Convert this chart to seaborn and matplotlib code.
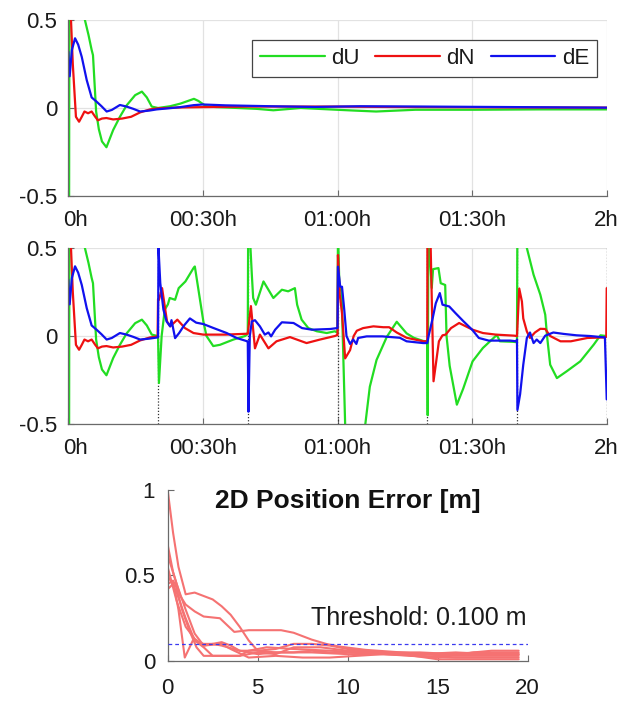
import numpy as np
import pandas as pd
import matplotlib
matplotlib.use("Agg")
import matplotlib.pyplot as plt
import matplotlib.transforms as mtransforms
import seaborn as sns

# ---------------- data ----------------
COMPONENTS = ["dU", "dN", "dE"]
COLORS = {"dU": "#22dd22", "dN": "#ee1111", "dE": "#1111ee"}
TIME_TICKS = [0, 30, 60, 90, 120]
TIME_LABELS = ["0h", "00:30h", "01:00h", "01:30h", "2h"]
Y_TICKS = [-0.5, 0, 0.5]
Y_LABELS = ["-0.5", "0", "0.5"]
RESET_TIMES = [0, 20, 40, 60, 80, 100, 120]

# top panel: single convergence (minutes, metres)
top_dU_t = [0.15, 0.2, 0.3, 3.7, 4.5, 5.2, 5.5, 6.2, 6.8, 7.5, 8.5, 10.0, 11.5, 13.0, 14.9, 16.4, 17.5, 18.6, 20.0, 22.7,
            25.0, 28.0, 29.0, 30.7, 33.0, 37.7, 42.0, 45.7, 51.8, 59.8, 64.0, 68.6, 77.4, 90.6, 105.0, 120.0]
top_dU_v = [-1.2, 0.0, 0.9, 0.5, 0.415, 0.33, 0.30, -0.02, -0.12, -0.19, -0.223, -0.125, -0.05, 0.015, 0.073, 0.093, 0.06, 0.008, 0.0, 0.01,
            0.025, 0.052, 0.04, 0.01, 0.005, 0.0, -0.005, -0.013, 0.0, -0.01, -0.015, -0.02, -0.01, -0.01, -0.008, -0.008]
top_dN_t = [0, 0.6, 1.0, 1.7, 2.4, 3.0, 3.6, 4.4, 5.2, 6.0, 6.6, 7.5, 8.5, 10.0, 12.0, 14.0, 16.0, 18.2, 20.0, 25.0,
            30.0, 40.0, 50.0, 60.0, 70.0, 80.0, 90.0, 100.0, 120.0]
top_dN_v = [0.9, 0.5, 0.25, -0.05, -0.078, -0.05, -0.02, -0.03, -0.02, -0.05, -0.07, -0.06, -0.057, -0.065, -0.06, -0.05, -0.025, -0.008, -0.002, 0.003,
            0.005, 0.008, 0.008, 0.008, 0.006, 0.005, 0.004, 0.003, 0.002]
top_dE_t = [0, 0.3, 0.8, 1.5, 2.2, 3.0, 4.1, 5.2, 6.3, 7.4, 8.55, 9.7, 11.5, 13.0, 14.5, 16.0, 18.0, 19.7, 22.7, 25.0,
            27.9, 30.0, 35.0, 45.0, 55.0, 65.0, 80.0, 100.0, 120.0]
top_dE_v = [0.32, 0.18, 0.33, 0.396, 0.36, 0.29, 0.159, 0.06, 0.036, 0.01, -0.02, -0.011, 0.017, 0.008, -0.005, -0.02, -0.015, -0.008, -0.001, 0.005,
            0.016, 0.02, 0.015, 0.01, 0.006, 0.01, 0.008, 0.005, 0.002]

# middle panel: re-initialisation every 20 minutes
mid_dU_t = ([0.15, 0.2, 0.3, 3.7, 4.5, 5.2, 5.5, 6.2, 6.8, 7.5, 8.5, 10.0, 11.5, 13.0, 14.9, 16.4, 17.5, 18.6, 19.9]
            + [20.0, 20.2, 20.8, 21.5, 22.2, 22.6, 23.8, 24.6, 26.1, 27.9, 28.2, 30.1, 30.8, 32.3, 33.8, 36.8, 39.4, 39.9]
            + [40.0, 40.1, 40.5, 40.9, 41.2, 41.8, 43.5, 45.7, 47.6, 49.0, 50.5, 51.0, 52.0, 53.5, 55.4, 57.6, 59.4, 59.9]
            + [60.0, 60.1, 60.4, 60.9, 61.7, 62.5, 66.2, 67.2, 68.7, 71.0, 73.2, 75.4, 77.0, 79.1, 79.9]
            + [80.0, 80.1, 80.25, 81.0, 81.3, 82.5, 83.0, 84.0, 84.3, 85.0, 86.6, 88.0, 90.1, 92.4, 95.5, 96.2, 99.2, 99.9]
            + [100.0, 100.1, 102.2, 103.7, 105.2, 106.3, 106.7, 107.4, 108.9, 111.1, 114.1, 117.1, 118.6, 119.9, 120.0])
mid_dU_v = ([-1.2, 0.0, 0.9, 0.5, 0.415, 0.33, 0.30, -0.02, -0.12, -0.19, -0.223, -0.125, -0.05, 0.015, 0.073, 0.093, 0.06, 0.008, 0.0]
            + [0.0, -0.267, 0.0, 0.15, 0.18, 0.216, 0.206, 0.272, 0.31, 0.386, 0.395, 0.083, 0.0, -0.057, -0.05, -0.02, 0.0, 0.01]
            + [0.02, 0.7, 0.55, 0.35, 0.216, 0.178, 0.31, 0.216, 0.263, 0.254, 0.272, 0.178, 0.093, 0.045, 0.027, 0.017, 0.027, 0.02]
            + [0.02, 0.6, 0.3, 0.25, -0.5, -1.0, -0.5, -0.288, -0.136, -0.004, 0.081, 0.015, -0.01, -0.028, -0.03]
            + [-0.03, -0.45, 0.6, 0.273, 0.38, 0.386, 0.30, 0.29, 0.0, -0.17, -0.39, -0.3, -0.144, -0.068, 0.006, -0.03, -0.033, -0.035]
            + [-0.035, 0.7, 0.5, 0.348, 0.235, 0.121, 0.0, -0.163, -0.239, -0.2, -0.144, -0.049, 0.004, 0.0, 0.0])
mid_dN_t = ([0, 0.6, 1.0, 1.7, 2.4, 3.0, 3.6, 4.4, 5.2, 6.0, 6.6, 7.5, 8.5, 10.0, 12.0, 14.0, 16.0, 18.2, 19.9]
            + [20.0, 20.2, 20.9, 22.0, 22.7, 24.3, 26.0, 27.9, 30.1, 35.0, 39.9]
            + [40.0, 40.7, 41.6, 42.7, 44.6, 46.4, 49.4, 53.1, 56.1, 59.4, 59.9]
            + [60.0, 60.1, 60.5, 61.0, 61.7, 62.8, 63.6, 64.3, 65.7, 68.0, 70.2, 71.5, 73.2, 75.4, 79.1, 79.9]
            + [80.0, 80.05, 80.6, 81.4, 81.9, 82.6, 83.4, 84.1, 85.3, 87.1, 88.6, 90.1, 92.4, 95.3, 99.4, 99.9]
            + [100.0, 100.5, 101.1, 101.4, 102.2, 102.9, 104.0, 105.2, 106.3, 107.4, 109.7, 112.0, 115.7, 119.4, 119.9, 120.0])
mid_dN_v = ([0.9, 0.5, 0.25, -0.05, -0.078, -0.05, -0.02, -0.03, -0.02, -0.05, -0.07, -0.06, -0.057, -0.065, -0.06, -0.05, -0.025, -0.008, -0.003]
            + [0.21, 0.206, 0.272, 0.083, 0.055, 0.093, 0.045, 0.017, 0.008, 0.008, 0.013]
            + [0.013, 0.17, -0.07, 0.008, -0.07, -0.03, -0.006, -0.04, -0.02, 0.0, 0.005]
            + [0.005, 0.46, 0.235, 0.13, -0.127, -0.08, 0.0, 0.03, 0.045, 0.055, 0.05, 0.05, 0.02, -0.01, -0.03, -0.03]
            + [-0.03, 0.8, 0.7, -0.257, -0.163, -0.03, 0.004, 0.008, 0.045, 0.074, 0.055, 0.036, 0.017, 0.008, 0.002, 0.0]
            + [0.0, 0.27, 0.196, 0.1, 0.026, -0.011, 0.02, 0.041, 0.04, 0.0, -0.03, -0.03, -0.011, -0.008, -0.005, 0.272])
mid_dE_t = ([0, 0.3, 0.8, 1.5, 2.2, 3.0, 4.1, 5.2, 6.3, 7.4, 8.55, 9.7, 11.5, 13.0, 14.5, 16.0, 18.0, 19.9]
            + [20.0, 20.1, 20.5, 21.2, 21.9, 22.7, 23.0, 23.8, 24.7, 25.8, 27.1, 28.5, 30.1, 32.3, 35.3, 37.5, 39.9]
            + [40.0, 40.15, 40.45, 40.9, 41.6, 42.7, 43.8, 44.6, 45.2, 46.1, 47.6, 50.2, 52.1, 54.3, 58.4, 59.9]
            + [60.0, 60.1, 60.6, 61.0, 61.5, 62.0, 62.8, 63.5, 64.2, 64.6, 66.5, 70.0, 73.9, 75.4, 79.1, 79.9]
            + [80.0, 80.3, 81.2, 81.9, 82.8, 83.4, 84.9, 86.3, 88.1, 90.0, 91.5, 93.7, 98.5, 99.9]
            + [100.0, 100.1, 100.7, 101.4, 102.2, 102.9, 103.7, 104.4, 105.2, 106.3, 108.1, 110.4, 113.3, 116.3, 119.6, 120.0])
mid_dE_v = ([0.32, 0.18, 0.33, 0.396, 0.36, 0.29, 0.159, 0.06, 0.036, 0.01, -0.02, -0.011, 0.017, 0.008, -0.005, -0.02, -0.015, -0.008]
            + [-0.008, 0.5, 0.3, 0.15, 0.083, 0.055, 0.09, -0.012, 0.017, 0.06, 0.1, 0.076, 0.068, 0.046, 0.017, -0.011, -0.03]
            + [-0.03, -0.43, 0.0, 0.083, 0.09, 0.055, 0.008, 0.02, -0.002, 0.036, 0.078, 0.074, 0.045, 0.036, 0.04, 0.045]
            + [0.045, 0.394, 0.28, 0.28, 0.15, 0.0, -0.045, -0.02, -0.045, -0.011, -0.002, -0.002, -0.01, -0.03, -0.04, -0.04]
            + [-0.04, 0.0, 0.1, 0.186, 0.244, 0.178, 0.168, 0.13, 0.083, 0.036, -0.011, -0.026, -0.026, -0.03]
            + [-0.02, -0.42, -0.33, -0.163, -0.011, 0.02, -0.04, -0.02, -0.04, 0.002, 0.02, 0.012, 0.004, 0.0, -0.008, -0.36])

# bottom panel: 2D position error of each re-initialised run (minutes, metres)
run1_t = [0, 0.3, 0.6, 1.0, 1.5, 2.0, 2.5, 3.0, 3.5, 4.0, 4.5, 5.0, 6.0, 7.0, 8.0, 9.0, 10.0, 12.0, 14.0, 16.0, 18.0, 19.5]
run1_v = [1.0, 0.75, 0.55, 0.39, 0.40, 0.38, 0.36, 0.32, 0.27, 0.20, 0.12, 0.06, 0.05, 0.05, 0.06, 0.05, 0.05, 0.04, 0.03, 0.02, 0.02, 0.02]
run2_t = [0, 0.3, 0.7, 1.0, 1.5, 2.0, 2.9, 3.3, 3.7, 4.5, 5.5, 6.3, 7.0, 8.0, 8.8, 9.5, 11.0, 13.0, 15.0, 17.0, 19.5]
run2_v = [0.68, 0.52, 0.38, 0.33, 0.29, 0.26, 0.25, 0.21, 0.17, 0.18, 0.18, 0.18, 0.165, 0.125, 0.10, 0.085, 0.065, 0.05, 0.035, 0.04, 0.04]
run3_t = [0, 0.5, 1.0, 1.5, 2.0, 2.5, 3.0, 3.5, 4.0, 5.0, 6.0, 7.0, 8.0, 9.0, 10.0, 12.0, 14.0, 16.0, 18.0, 19.5]
run3_v = [0.62, 0.45, 0.30, 0.16, 0.09, 0.10, 0.11, 0.09, 0.06, 0.06, 0.07, 0.10, 0.10, 0.09, 0.07, 0.05, 0.04, 0.03, 0.03, 0.03]
run4_t = [0, 0.3, 0.6, 0.95, 1.4, 2.0, 2.5, 3.0, 4.0, 5.0, 6.0, 8.0, 10.0, 12.0, 15.0, 17.0, 19.5]
run4_v = [0.45, 0.47, 0.30, 0.02, 0.12, 0.10, 0.10, 0.09, 0.06, 0.04, 0.05, 0.05, 0.04, 0.04, 0.02, 0.05, 0.05]
run5_t = [0, 0.4, 0.8, 1.2, 1.6, 2.0, 3.0, 4.0, 4.5, 5.5, 7.0, 9.0, 11.0, 13.0, 15.0, 17.0, 19.5]
run5_v = [0.42, 0.46, 0.30, 0.18, 0.08, 0.03, 0.03, 0.03, 0.06, 0.08, 0.07, 0.06, 0.05, 0.04, 0.01, 0.01, 0.01]
run6_t = [0, 0.5, 1.0, 1.5, 2.0, 3.0, 3.5, 4.5, 6.0, 7.5, 9.0, 10.5, 12.0, 14.0, 16.0, 18.0, 19.5]
run6_v = [0.55, 0.35, 0.20, 0.13, 0.09, 0.10, 0.07, 0.02, 0.03, 0.02, 0.02, 0.03, 0.04, 0.04, 0.05, 0.04, 0.04]
run7_t = [0, 0.5, 1.0, 1.5, 2.0, 2.5, 4.0, 5.0, 6.0, 7.0, 8.5, 10.0, 12.0, 14.0, 16.0, 18.0, 19.5]
run7_v = [0.5, 0.40, 0.25, 0.12, 0.08, 0.03, 0.03, 0.05, 0.04, 0.08, 0.08, 0.06, 0.05, 0.05, 0.04, 0.06, 0.06]

THRESHOLD = 0.1
THRESHOLD_LABEL = "Threshold: 0.100 m"
ERR_TITLE = "2D Position Error [m]"
ERR_X_TICKS = [0, 5, 10, 15, 20]
ERR_Y_TICKS = [0, 0.5, 1]
ERR_Y_LABELS = ["0", "0.5", "1"]

# ---------------- style ----------------
sns.set_theme(style="white")
plt.rcParams["font.family"] = ["Liberation Sans", "DejaVu Sans"]
SPINE = "#6a6a6a"
GRID = "#e2e2e2"
TXT = "#1a1a1a"

fig = plt.figure(figsize=(6.21, 7.01), dpi=100)
ax1 = fig.add_axes([0.110, 0.7204, 0.867, 0.2511])
ax2 = fig.add_axes([0.110, 0.3951, 0.867, 0.2511])
ax3 = fig.add_axes([0.2700, 0.0571, 0.5797, 0.2439])


def comp_frame(tlists, vlists):
    parts = []
    for comp, tt, vv in zip(COMPONENTS, tlists, vlists):
        parts.append(pd.DataFrame({"t": tt, "v": vv, "comp": comp}))
    return pd.concat(parts, ignore_index=True)


top_df = comp_frame([top_dU_t, top_dN_t, top_dE_t], [top_dU_v, top_dN_v, top_dE_v])
mid_df = comp_frame([mid_dU_t, mid_dN_t, mid_dE_t], [mid_dU_v, mid_dN_v, mid_dE_v])


def style_time_axis(ax):
    ax.set_xlim(0, 120)
    ax.set_ylim(-0.5, 0.5)
    ax.set_xticks(TIME_TICKS)
    ax.set_xticklabels(TIME_LABELS)
    ax.set_yticks(Y_TICKS)
    ax.set_yticklabels(Y_LABELS)
    ax.grid(True, color=GRID, lw=0.9)
    ax.set_axisbelow(True)
    for s in ["top", "right"]:
        ax.spines[s].set_visible(False)
    for s in ["left", "bottom"]:
        ax.spines[s].set_color(SPINE)
        ax.spines[s].set_linewidth(0.9)
    ax.tick_params(axis="both", direction="in", length=4, width=0.8, color=SPINE,
                   labelsize=16, labelcolor=TXT, bottom=True, left=True)
    ax.tick_params(axis="y", pad=8)
    ax.tick_params(axis="x", pad=10)
    ax.set_xlabel("")
    ax.set_ylabel("")
    # the first hour label sits a little right of its tick in the reference
    lab = ax.get_xticklabels()[0]
    lab.set_transform(lab.get_transform() + mtransforms.ScaledTranslation(7 / 100, 0, fig.dpi_scale_trans))


sns.lineplot(data=top_df, x="t", y="v", hue="comp", hue_order=COMPONENTS, palette=COLORS,
             estimator=None, sort=False, lw=1.6, ax=ax1)
style_time_axis(ax1)
handles, labels = ax1.get_legend_handles_labels()
leg = ax1.legend(handles, labels, ncol=3, loc="upper right", bbox_to_anchor=(0.9814, 0.886),
                 borderaxespad=0, fontsize=16, frameon=True, fancybox=False, framealpha=1,
                 edgecolor="#444444", handlelength=2.9, handletextpad=0.3, columnspacing=0.7,
                 borderpad=0.35)
leg.get_frame().set_linewidth(0.9)
for t in leg.get_texts():
    t.set_color(TXT)

for rt in RESET_TIMES:
    ax2.axvline(rt, color="#333333", ls=(0, (1, 1.5)), lw=0.9, zorder=1.5)
sns.lineplot(data=mid_df, x="t", y="v", hue="comp", hue_order=COMPONENTS, palette=COLORS,
             estimator=None, sort=False, lw=1.6, ax=ax2, legend=False)
style_time_axis(ax2)

# bottom panel
runs = [(run1_t, run1_v), (run2_t, run2_v), (run3_t, run3_v), (run4_t, run4_v),
        (run5_t, run5_v), (run6_t, run6_v), (run7_t, run7_v)]
err_df = pd.concat([pd.DataFrame({"t": tt, "e": vv, "run": i}) for i, (tt, vv) in enumerate(runs)],
                   ignore_index=True)
sns.lineplot(data=err_df, x="t", y="e", units="run", estimator=None, sort=False,
             color="#f57272", lw=1.5, ax=ax3, legend=False)
ax3.axhline(THRESHOLD, color="#3a3af0", ls=(0, (3, 2.4)), lw=0.9, zorder=3)
ax3.set_xlim(0, 20)
ax3.set_ylim(0, 1)
ax3.set_xticks(ERR_X_TICKS)
ax3.set_yticks(ERR_Y_TICKS)
ax3.set_yticklabels(ERR_Y_LABELS)
ax3.grid(False)
for s in ["top", "right"]:
    ax3.spines[s].set_visible(False)
for s in ["left", "bottom"]:
    ax3.spines[s].set_color(SPINE)
    ax3.spines[s].set_linewidth(0.9)
ax3.tick_params(axis="both", direction="in", length=4, width=0.8, color=SPINE,
                labelsize=16, labelcolor=TXT, bottom=True, left=True)
ax3.tick_params(axis="y", pad=9)
ax3.tick_params(axis="x", pad=12)
ax3.set_xlabel("")
ax3.set_ylabel("")
ax3.text(0.5, 0.935, ERR_TITLE, transform=ax3.transAxes, ha="center", va="center",
         fontsize=19, fontweight="bold", color="#111111")
ax3.text(0.997, 0.25, THRESHOLD_LABEL, transform=ax3.transAxes, ha="right", va="center",
         fontsize=18, color=TXT)

fig.savefig("out.png", dpi=100)
